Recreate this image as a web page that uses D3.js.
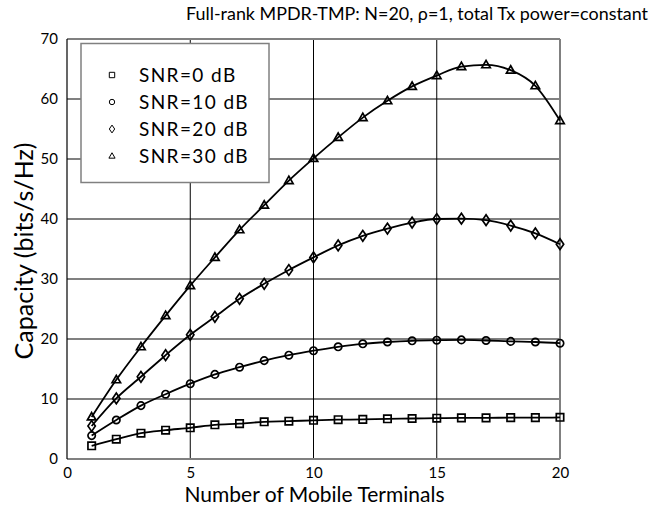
<!DOCTYPE html>
<html>
<head>
<meta charset="utf-8">
<script src="https://cdn.jsdelivr.net/npm/d3@7"></script>
<style>
  html, body { margin: 0; padding: 0; background: #fff; }
  svg text { font-family: Lato, "Open Sans", "DejaVu Sans", sans-serif; fill: #000; }
</style>
</head>
<body>
<svg id="chart" width="653" height="508"></svg>
<script>
// Number of mobile terminals (x)
const terminals = [1,2,3,4,5,6,7,8,9,10,11,12,13,14,15,16,17,18,19,20];

// Capacity (bits/s/Hz) per SNR setting
const snr0  = [2.2,3.3,4.3,4.8,5.2,5.7,5.9,6.2,6.3,6.45,6.55,6.6,6.7,6.75,6.8,6.85,6.85,6.9,6.9,6.95];
const snr10 = [3.9,6.5,8.9,10.8,12.55,14.1,15.3,16.4,17.3,18.05,18.7,19.2,19.5,19.7,19.8,19.85,19.75,19.6,19.5,19.3];
const snr20 = [5.5,10.1,13.7,17.3,20.7,23.7,26.7,29.2,31.5,33.6,35.6,37.2,38.4,39.4,40.0,40.05,39.8,38.9,37.6,35.8];
const snr30 = [7.0,13.2,18.7,23.9,28.9,33.6,38.2,42.3,46.4,50.1,53.6,56.9,59.7,62.1,63.9,65.4,65.7,64.8,62.2,56.4];

const seriesNames = ["SNR=0 dB","SNR=10 dB","SNR=20 dB","SNR=30 dB"];
const seriesSymbols = ["square","circle","diamond","triangle"];
const seriesValues = [snr0, snr10, snr20, snr30];

const xTicks = [0,5,10,15,20];
const yTicks = [0,10,20,30,40,50,60,70];

const titleText = "Full-rank MPDR-TMP: N=20, \u03C1=1, total Tx power=constant";
const xLabel = "Number of Mobile Terminals";
const yLabel = "Capacity (bits/s/Hz)";

const svg = d3.select("#chart");
const plot = { left: 67, right: 560, top: 39, bottom: 459 };

const x = d3.scaleLinear().domain([0, 20]).range([plot.left, plot.right]);
const y = d3.scaleLinear().domain([0, 70]).range([plot.bottom, plot.top]);

// scale a text's font size so that it spans the given width
function fitWidth(sel, width, baseSize) {
  sel.style("font-size", baseSize + "px");
  const w = sel.node().getComputedTextLength();
  if (w > 0) sel.style("font-size", (baseSize * width / w).toFixed(2) + "px");
  return sel;
}

// horizontal grid lines (gray)
svg.append("g")
  .selectAll("line")
  .data(yTicks.filter(v => v > 0 && v < 70))
  .join("line")
  .attr("x1", plot.left).attr("x2", plot.right)
  .attr("y1", d => y(d)).attr("y2", d => y(d))
  .attr("stroke", "#808080").attr("stroke-width", 2);

// vertical grid lines (black)
svg.append("g")
  .selectAll("line")
  .data(xTicks.filter(v => v > 0 && v < 20))
  .join("line")
  .attr("x1", d => x(d)).attr("x2", d => x(d))
  .attr("y1", plot.top).attr("y2", plot.bottom)
  .attr("stroke", "#000").attr("stroke-width", 1);

// frame
svg.append("line").attr("x1", plot.left).attr("x2", plot.right).attr("y1", plot.top).attr("y2", plot.top)
  .attr("stroke", "#808080").attr("stroke-width", 2);
svg.append("line").attr("x1", plot.left).attr("x2", plot.right).attr("y1", plot.bottom).attr("y2", plot.bottom)
  .attr("stroke", "#808080").attr("stroke-width", 2);
svg.append("line").attr("x1", plot.right).attr("x2", plot.right).attr("y1", plot.top).attr("y2", plot.bottom)
  .attr("stroke", "#808080").attr("stroke-width", 2);
svg.append("line").attr("x1", plot.left).attr("x2", plot.left).attr("y1", plot.top).attr("y2", plot.bottom)
  .attr("stroke", "#000").attr("stroke-width", 1.2);

// axes (labels only)
const xAxis = d3.axisBottom(x).tickValues(xTicks).tickSize(0).tickPadding(8);
svg.append("g").attr("transform", `translate(0,${plot.bottom})`).call(xAxis)
  .call(g => g.select(".domain").remove())
  .call(g => g.selectAll("text").style("font-size", "15px").style("font-family", "Lato, sans-serif"));

const yAxis = d3.axisLeft(y).tickValues(yTicks).tickSize(0).tickPadding(9);
svg.append("g").attr("transform", `translate(${plot.left},0)`).call(yAxis)
  .call(g => g.select(".domain").remove())
  .call(g => g.selectAll("text").style("font-size", "15px").style("font-family", "Lato, sans-serif"));

// series lines
const line = d3.line().x((d, i) => x(terminals[i])).y(d => y(d)).curve(d3.curveMonotoneX);
svg.append("g")
  .selectAll("path")
  .data(seriesValues)
  .join("path")
  .attr("d", d => line(d))
  .attr("fill", "none").attr("stroke", "#000").attr("stroke-width", 1.8);

// marker shapes
function markerPath(kind, s) {
  if (kind === "square") return `M${-s},${-s}H${s}V${s}H${-s}Z`;
  if (kind === "circle") return d3.symbol(d3.symbolCircle, Math.PI * s * s)();
  if (kind === "diamond") return `M0,${-s * 1.45}L${s},0L0,${s * 1.45}L${-s},0Z`;
  if (kind === "triangle") return `M0,${-s * 1.2}L${s * 1.15},${s * 0.8}L${-s * 1.15},${s * 0.8}Z`;
}

seriesValues.forEach((vals, k) => {
  svg.append("g")
    .selectAll("path")
    .data(vals)
    .join("path")
    .attr("transform", (d, i) => `translate(${x(terminals[i])},${y(d)})`)
    .attr("d", markerPath(seriesSymbols[k], 3.7))
    .attr("fill", "none").attr("stroke", "#000").attr("stroke-width", 1.7);
});

// legend
const lg = svg.append("g");
lg.append("rect").attr("x", 81).attr("y", 43.5).attr("width", 188).attr("height", 139)
  .attr("fill", "#fff").attr("stroke", "#808080").attr("stroke-width", 1.5);
seriesNames.forEach((name, k) => {
  const ry = 75 + k * 27;
  lg.append("path").attr("transform", `translate(112,${ry})`)
    .attr("d", markerPath(seriesSymbols[k], 2.7))
    .attr("fill", "none").attr("stroke", "#000").attr("stroke-width", 1);
  lg.append("text").attr("x", 139).attr("y", ry).attr("dy", "0.36em")
    .style("font-size", "19px").style("letter-spacing", "1.4px").text(name);
});

// title and axis labels
const title = svg.append("text").attr("x", 648).attr("y", 20).attr("text-anchor", "end").text(titleText);
fitWidth(title, 462, 17);

svg.append("text").attr("x", (plot.left + plot.right) / 2 + 1).attr("y", 502)
  .attr("text-anchor", "middle").style("font-size", "21px").text(xLabel);

const yl = svg.append("text").attr("transform", `translate(33,${(plot.top + plot.bottom) / 2 + 2}) rotate(-90)`)
  .attr("text-anchor", "middle").text(yLabel);
fitWidth(yl, 217, 21);
</script>
</body>
</html>
